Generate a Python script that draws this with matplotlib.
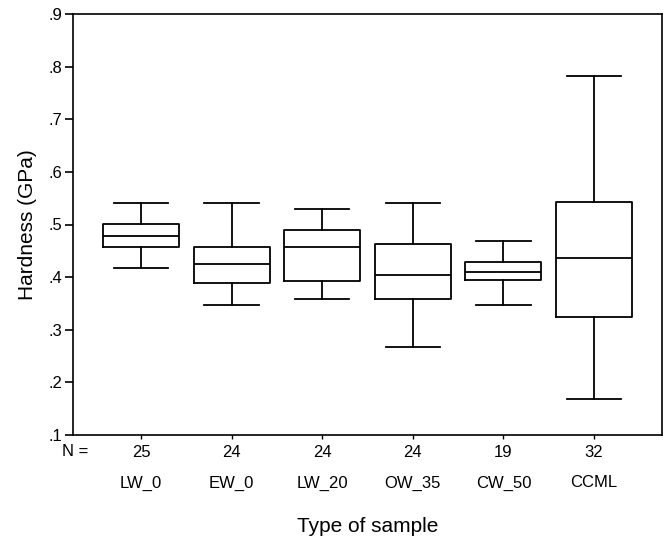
import matplotlib
matplotlib.use('Agg')
from matplotlib import pyplot as plt
from matplotlib import transforms as mt

plt.rcParams['font.family'] = ['Liberation Sans', 'DejaVu Sans']

samples = ['LW_0', 'EW_0', 'LW_20', 'OW_35', 'CW_50', 'CCML']
n_counts = [25, 24, 24, 24, 19, 32]
whis_lo = [0.418, 0.347, 0.359, 0.268, 0.347, 0.169]
q1 = [0.458, 0.389, 0.393, 0.359, 0.394, 0.325]
median = [0.478, 0.424, 0.458, 0.404, 0.410, 0.436]
q3 = [0.501, 0.458, 0.489, 0.463, 0.429, 0.543]
whis_hi = [0.541, 0.541, 0.529, 0.541, 0.469, 0.782]
y_ticks = [0.1, 0.2, 0.3, 0.4, 0.5, 0.6, 0.7, 0.8, 0.9]
y_labels = ['.1', '.2', '.3', '.4', '.5', '.6', '.7', '.8', '.9']

fig = plt.figure(figsize=(6.67, 5.44), dpi=100)
ax = fig.add_axes([73 / 667, 1 - 435 / 544, (662 - 73) / 667, (435 - 14) / 544])

stats = []
for i in range(len(samples)):
    stats.append({'label': samples[i], 'whislo': whis_lo[i], 'q1': q1[i],
                  'med': median[i], 'q3': q3[i], 'whishi': whis_hi[i], 'fliers': []})

positions = list(range(1, len(samples) + 1))
lw = 1.3
ax.bxp(stats, positions=positions, widths=0.84, capwidths=0.6,
       showfliers=False, patch_artist=False,
       boxprops=dict(color='black', linewidth=lw),
       whiskerprops=dict(color='black', linewidth=lw),
       capprops=dict(color='black', linewidth=lw),
       medianprops=dict(color='black', linewidth=lw))

ax.set_xlim(0.25, 6.75)
ax.set_ylim(0.1, 0.9)
ax.set_yticks(y_ticks)
ax.set_yticklabels(y_labels, fontsize=12)
ax.tick_params(axis='y', direction='out', length=6, width=1.2, pad=2)

ax.set_xticks(positions)
ax.set_xticklabels([str(n) for n in n_counts], fontsize=12)
ax.tick_params(axis='x', direction='out', length=3, width=1.0, pad=4)

trans = mt.blended_transform_factory(ax.transData, ax.transAxes)
for p, s in zip(positions, samples):
    ax.text(p, -0.114, s, transform=trans, ha='center', va='center', fontsize=12)

fig.text(75 / 667, 1 - 452 / 544, 'N =', ha='center', va='center', fontsize=12)

for sp in ax.spines.values():
    sp.set_linewidth(1.2)

ax.set_ylabel('Hardness (GPa)', fontsize=15, labelpad=8)
fig.text((73 + 662) / 2 / 667, 1 - 526 / 544, 'Type of sample', ha='center', va='center', fontsize=15)

fig.savefig('out.png', dpi=100)
